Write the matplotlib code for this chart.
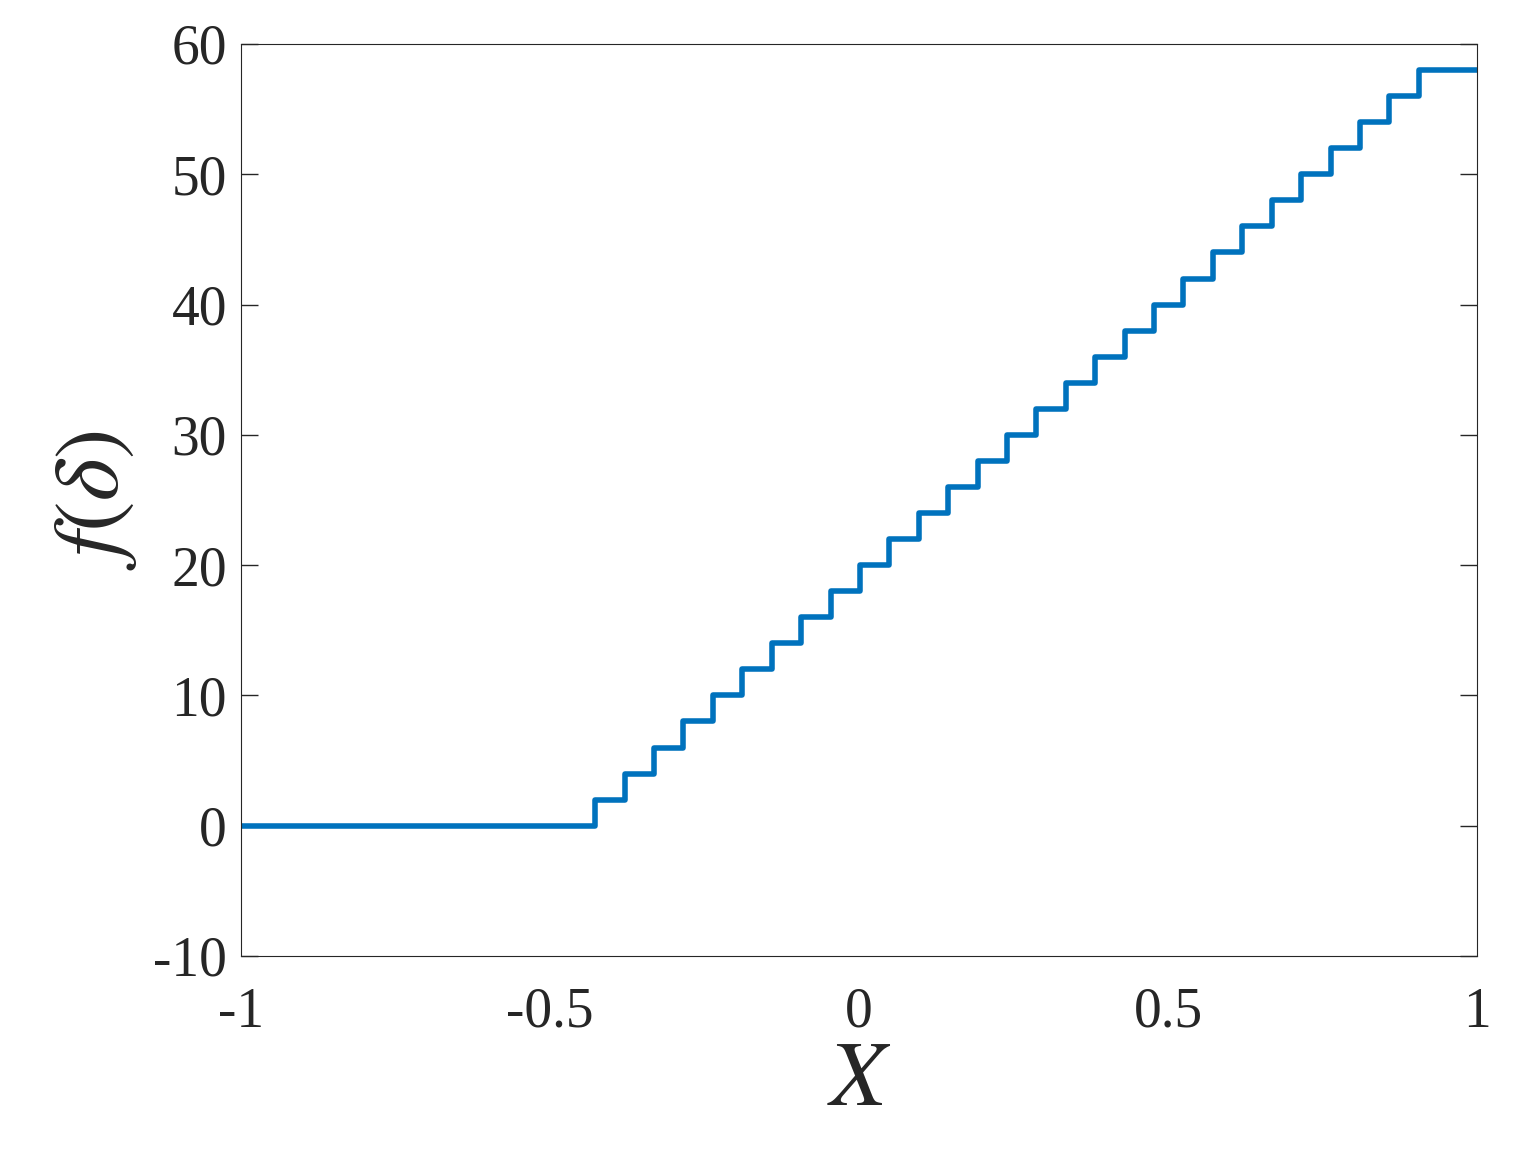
import matplotlib
matplotlib.use('Agg')
import matplotlib.pyplot as plt

# x positions where f(delta) jumps up by 2
jump_x = [-0.427, -0.379, -0.332, -0.284, -0.237, -0.189, -0.141, -0.094, -0.046,
          0.001, 0.049, 0.097, 0.144, 0.192, 0.239, 0.287, 0.335, 0.382, 0.430,
          0.477, 0.525, 0.573, 0.620, 0.668, 0.715, 0.763, 0.811, 0.858, 0.906]
levels = [0, 2, 4, 6, 8, 10, 12, 14, 16, 18, 20, 22, 24, 26, 28, 30, 32, 34, 36,
          38, 40, 42, 44, 46, 48, 50, 52, 54, 56, 58]

xs = [-1.0] + jump_x + [1.0]
ys = levels + [levels[-1]]

plt.rcParams['font.family'] = ['Liberation Serif', 'DejaVu Serif']
plt.rcParams['mathtext.fontset'] = 'stix'
plt.rcParams['axes.unicode_minus'] = False

fig = plt.figure(figsize=(15.15, 11.56), dpi=100)
ax = fig.add_axes([241/1515, 1-956/1156, (1477-241)/1515, (956-44)/1156])
ax.step(xs, ys, where='post', color='#0072BD', linewidth=4)
ax.set_xlim(-1, 1)
ax.set_ylim(-10, 60)
ax.set_xticks([-1, -0.5, 0, 0.5, 1])
ax.set_xticklabels(['-1', '-0.5', '0', '0.5', '1'])
ax.set_yticks(range(-10, 61, 10))
ax.tick_params(direction='in', top=True, right=True, labelsize=40, length=12,
               width=1, colors='#262626')
ax.tick_params(axis='x', length=0, pad=22)
ax.tick_params(axis='y', pad=10)
for s in ax.spines.values():
    s.set_color('#262626')
ax.set_xlabel(r'$X$', fontsize=66, color='#262626', labelpad=2)
ax.set_ylabel(r'$f(\delta)$', fontsize=66, color='#262626', labelpad=10)
fig.savefig('out.png', dpi=100)
